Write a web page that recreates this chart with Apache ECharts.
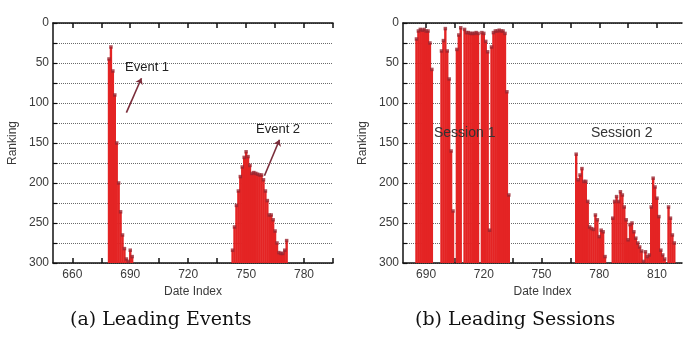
<!DOCTYPE html>
<html>
<head>
<meta charset="utf-8">
<script src="https://cdn.jsdelivr.net/npm/echarts@6/dist/echarts.min.js"></script>
<style>html,body{margin:0;padding:0;background:#fff;}#c{width:684px;height:338px;}</style>
</head>
<body>
<div id="c"></div>
<script>
// ---- Data ----
const event1Days  = [679,680,681,682,683,684,685,686,687,688,689,690,691];
const event1Ranks = [45, 30, 60, 90, 150,200,236,265,282,295,298,284,292];

const event2Days  = [743,744,745,746,747,748,749,750,751,752,753,754,755,756,757,758,759,760,761,762,763,764,765,766,767,768,769,770,771];
const event2Ranks = [284,255,228,210,192,180,168,161,167,178,188,187,188,189,190,190,196,210,222,240,240,246,260,275,287,288,288,284,272];

const session1Days  = [685,686,687,688,689,690,691,692,693, 698,699,700,701,702,703,704, 706,707,708, 710,711,712,713,714,715,716,717, 719,720,721,722,723,724,725,726,727,728,729,730,731,732,733];
const session1Ranks = [20, 10, 8,  9,  8,  10, 10, 25, 58,  35, 22, 7,  35, 70, 160,235, 33, 15, 6,   8, 12, 12, 13, 13, 13, 12, 13,  12, 13, 23, 36, 259,30, 12, 10, 10, 9,  10, 10, 13, 86, 215];

const session2Days  = [768,769,770,771,772,773,774,775,776,777,778,779,780,781,782,783, 787,788,789,790,791,792,793,794,795,796,797,798,799,800,801,802,803,804,805,806,807,808,809,810,811,812,813,814, 816,817,818,819];
const session2Ranks = [164,196,190,182,198,198,223,255,257,258,240,246,267,259,261,292, 244,223,217,223,211,215,230,246,271,252,250,261,269,275,280,285,298,286,292,290,230,194,205,219,242,284,290,295, 230,244,265,275];

const yLabelStep = 50;
const leftXLabels  = [660,690,720,750,780];
const leftXTicks   = [660,675,690,705,720,735,750,765,780,795];
const rightXLabels = [690,720,750,780,810];
const rightXTicks  = [690,705,720,735,750,765,780,795,810];

// ---- Styles ----
const RED = '#e42424';
const MARK = '#9a2530';
const AXIS = '#111';
const TXT = '#3a3a3a';
const SANS = 'Liberation Sans, Arial, sans-serif';

function pairs(days, ranks){ return days.map((d,i)=>[d, ranks[i]]); }

function barSeries(idx, data, extra){
  return Object.assign({
    type: 'custom', xAxisIndex: idx*2, yAxisIndex: idx, data: data, z: 2,
    renderItem: function(params, api){
      const x = api.value(0), r = api.value(1);
      const p1 = api.coord([x-0.62, r]);
      const p2 = api.coord([x+0.62, 300]);
      return {type:'rect', shape:{x:p1[0], y:p1[1], width:p2[0]-p1[0], height:p2[1]-p1[1]},
        style:{fill:RED}};
    }
  }, extra||{});
}
function markSeries(idx, data){
  return {type:'scatter', xAxisIndex: idx*2, yAxisIndex: idx, data: data, symbol:'rect', symbolSize:3.5,
    itemStyle:{color:MARK}, z:3, silent:true};
}

function xAxes(grid, min, max, labels, ticks){
  return [{
    type:'value', gridIndex:grid, min:min, max:max, position:'bottom',
    name:'Date Index', nameLocation:'middle', nameGap:21,
    nameTextStyle:{fontFamily:SANS, fontSize:12, color:TXT},
    axisLine:{show:true, onZero:false, lineStyle:{color:AXIS, width:1.5}},
    axisTick:{show:true, inside:true, length:5, customValues:ticks, lineStyle:{color:AXIS, width:1.5}},
    axisLabel:{customValues:labels, margin:6, fontFamily:SANS, fontSize:12, color:TXT},
    splitLine:{show:false}
  },{
    type:'value', gridIndex:grid, min:min, max:max, position:'top',
    axisLine:{show:true, onZero:false, lineStyle:{color:AXIS, width:1.5}},
    axisTick:{show:true, inside:true, length:5, customValues:ticks, lineStyle:{color:AXIS, width:1.5}},
    axisLabel:{show:false}, splitLine:{show:false}
  }];
}
function yAxis(grid){
  return {
    type:'value', gridIndex:grid, min:0, max:300, interval:25, inverse:true,
    name:'Ranking', nameLocation:'middle', nameGap:34,
    nameTextStyle:{fontFamily:SANS, fontSize:12, color:TXT},
    axisLine:{show:true, lineStyle:{color:AXIS, width:1.5}},
    axisTick:{show:true, inside:true, length:4, lineStyle:{color:AXIS, width:1.2}},
    axisLabel:{margin:4, fontFamily:SANS, fontSize:12, color:TXT,
      formatter: v => (v % yLabelStep === 0 ? String(v) : '')},
    splitLine:{show:true, lineStyle:{color:'#6a6a6a', type:'dotted', width:1}}
  };
}

const arrowStyle = {color:'#7a2d3a', width:1.6, type:'solid'};
function arrow(x1,y1,x2,y2){ return [{coord:[x1,y1]},{coord:[x2,y2]}]; }

const option = {
  animation:false,
  grid:[
    {left:53, top:23, width:280, height:240},
    {left:403, top:23, width:279, height:240}
  ],
  xAxis: xAxes(0, 650, 795, leftXLabels, leftXTicks).concat(xAxes(1, 678, 823, rightXLabels, rightXTicks)),
  yAxis: [yAxis(0), yAxis(1)],
  series:[
    barSeries(0, pairs(event1Days, event1Ranks), {
      markLine:{silent:true, symbol:['none','arrow'], symbolSize:6, label:{show:false}, lineStyle:arrowStyle,
        data:[arrow(688,112,695.8,69), arrow(759.5,191,767.3,146)]}
    }),
    barSeries(0, pairs(event2Days, event2Ranks)),
    markSeries(0, pairs(event1Days, event1Ranks)),
    markSeries(0, pairs(event2Days, event2Ranks)),
    barSeries(1, pairs(session1Days, session1Ranks)),
    barSeries(1, pairs(session2Days, session2Ranks)),
    markSeries(1, pairs(session1Days, session1Ranks)),
    markSeries(1, pairs(session2Days, session2Ranks))
  ],
  graphic:[
    {type:'text', left:125, top:61, z:10, style:{text:'Event 1', font:'13px '+SANS, fill:'#222'}},
    {type:'text', left:256, top:123, z:10, style:{text:'Event 2', font:'13px '+SANS, fill:'#222'}},
    {type:'text', left:434, top:126, z:10, style:{text:'Session 1', font:'14px '+SANS, fill:'#333'}},
    {type:'text', left:591, top:126, z:10, style:{text:'Session 2', font:'14px '+SANS, fill:'#333'}},
    {type:'text', left:70, top:311, z:10, style:{text:'(a) Leading Events', font:'19px DejaVu Serif, serif', fill:'#111'}},
    {type:'text', left:415, top:311, z:10, style:{text:'(b) Leading Sessions', font:'19px DejaVu Serif, serif', fill:'#111'}}
  ]
};
const chart = echarts.init(document.getElementById('c'), null, {renderer:'canvas'});
chart.setOption(option);
</script>
</body>
</html>
